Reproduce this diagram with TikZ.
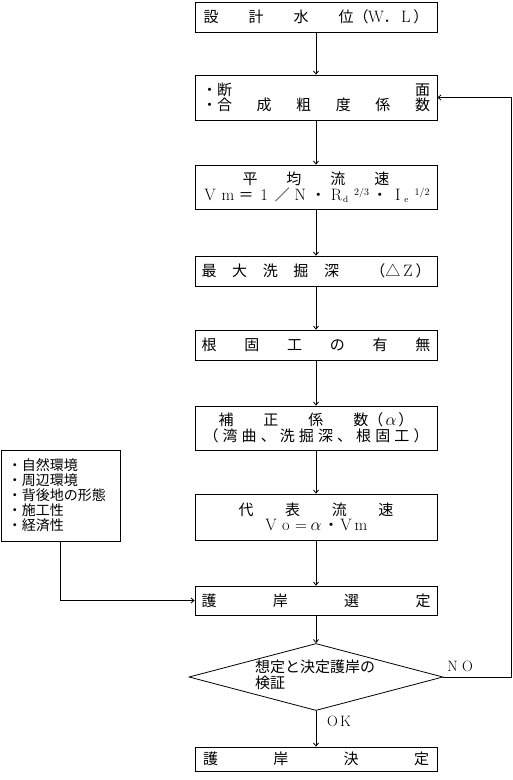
\documentclass[tikz,border=0pt]{standalone}
\usepackage{fontspec}
\newfontfamily\jp{Noto Sans CJK JP}
\usetikzlibrary{arrows.meta,shapes.geometric}
\newcommand\zw[1]{\makebox[1em]{\normalfont\fontsize{16.5}{15.5}\selectfont #1}}
\newcommand\supx[1]{\raisebox{5pt}{\normalfont\fontsize{10}{10}\selectfont #1}}
\newcommand\subx[1]{\raisebox{-2pt}{\normalfont\fontsize{9}{9}\selectfont #1}}

\begin{document}
\begin{tikzpicture}[
    x=1pt, y=-1pt,
    every node/.style={font=\jp\fontsize{15}{15.5}\selectfont},
    box/.style={draw, line width=0.8pt, minimum width=242pt, inner sep=0pt, align=center},
    envbox/.style={draw, line width=0.8pt, minimum width=119pt, minimum height=91pt, inner xsep=7pt, text width=105pt, align=left, font=\jp\fontsize{14}{15}\selectfont},
    decision/.style={diamond, draw, line width=0.8pt, minimum width=254pt, minimum height=67pt, inner sep=0pt},
    arr/.style={-{Straight Barb[length=3pt,width=5pt]}, line width=0.8pt},
    lbl/.style={font=\normalfont\fontsize{15}{15}\selectfont}
]
\useasboundingbox (0,0) rectangle (512,780);

\node[box, minimum height=30pt] (wl) at (316,17) {\hbox to 225pt{設\hfill 計\hfill 水\hfill 位（\zw{W}．\zw{L}）}};
\node[box, minimum height=45pt] (sect) at (316,97.5) {\hbox to 228pt{・断\hfill 面}\\ \hbox to 228pt{・合\hfill 成\hfill 粗\hfill 度\hfill 係\hfill 数}};
\node[box, minimum height=44pt] (vm) at (316,187) {\hbox to 147pt{平\hfill 均\hfill 流\hfill 速}\\ \hbox to 227pt{\zw{V}\hfill\zw{m}\hfill ＝\hfill\zw{1}\hfill ／\hfill\zw{N}\hfill ・\hfill\zw{R}\kern-1pt\subx{d}\kern6pt\supx{2/3}\hfill ・\hfill\zw{I}\kern-1pt\subx{e}\kern6pt\supx{1/2}}};
\node[box, minimum height=30pt] (dz) at (316,271) {\hbox to 229pt{最\hfill 大\hfill 洗\hfill 掘\hfill 深\hfill\hfill （△\zw{Z}）}};
\node[box, minimum height=30pt] (nf) at (316,345) {\hbox to 229pt{根\hfill 固\hfill 工\hfill の\hfill 有\hfill 無}};
\node[box, minimum height=44pt] (alp) at (316,428) {\hbox to 195pt{補\hfill 正\hfill 係\hfill 数（\zw{$\alpha$}）}\\ \hbox to 225pt{（\hfill 湾\hfill 曲\hfill 、\hfill 洗\hfill 掘\hfill 深\hfill 、\hfill 根\hfill 固\hfill 工\hfill ）}};
\node[box, minimum height=46pt] (vo) at (316,517) {\hbox to 155pt{代\hfill 表\hfill 流\hfill 速}\\ \zw{V}\zw{o}\zw{=}\zw{$\alpha$}・\zw{V}\zw{m}};
\node[box, minimum height=29pt] (sel) at (316,600.5) {\hbox to 229pt{護\hfill 岸\hfill 選\hfill 定}};
\node[decision] (chk) at (316,677) {};
\node[anchor=west, align=left, inner sep=0pt] (chkt) at (255,675) {想定と決定護岸の\\検証};
\node[box, minimum height=24pt] (fin) at (316,759) {\hbox to 226pt{護\hfill 岸\hfill 決\hfill 定}};
\node[envbox] (env) at (60.5,495.5) {・自然環境\\・周辺環境\\・背後地の形態\\・施工性\\・経済性};
\node[lbl] (no) at (460,666) {\makebox[15pt]{N}\makebox[15pt]{O}};
\node[lbl] (ok) at (339,721) {\makebox[13pt]{O}\makebox[13pt]{K}};
\coordinate (loopR) at (511,0);

\draw[arr] (wl) -- (sect);
\draw[arr] (sect) -- (vm);
\draw[arr] (vm) -- (dz);
\draw[arr] (dz) -- (nf);
\draw[arr] (nf) -- (alp);
\draw[arr] (alp) -- (vo);
\draw[arr] (vo) -- (sel);
\draw[arr] (env.south) |- (sel.west);
\draw[arr] (sel) -- (chk.north);
\draw[arr] (chk.south) -- (fin);
\draw[arr] (chk.east) -- (chk.east -| loopR) -- (sect.east -| loopR) -- (sect.east);
\end{tikzpicture}
\end{document}
